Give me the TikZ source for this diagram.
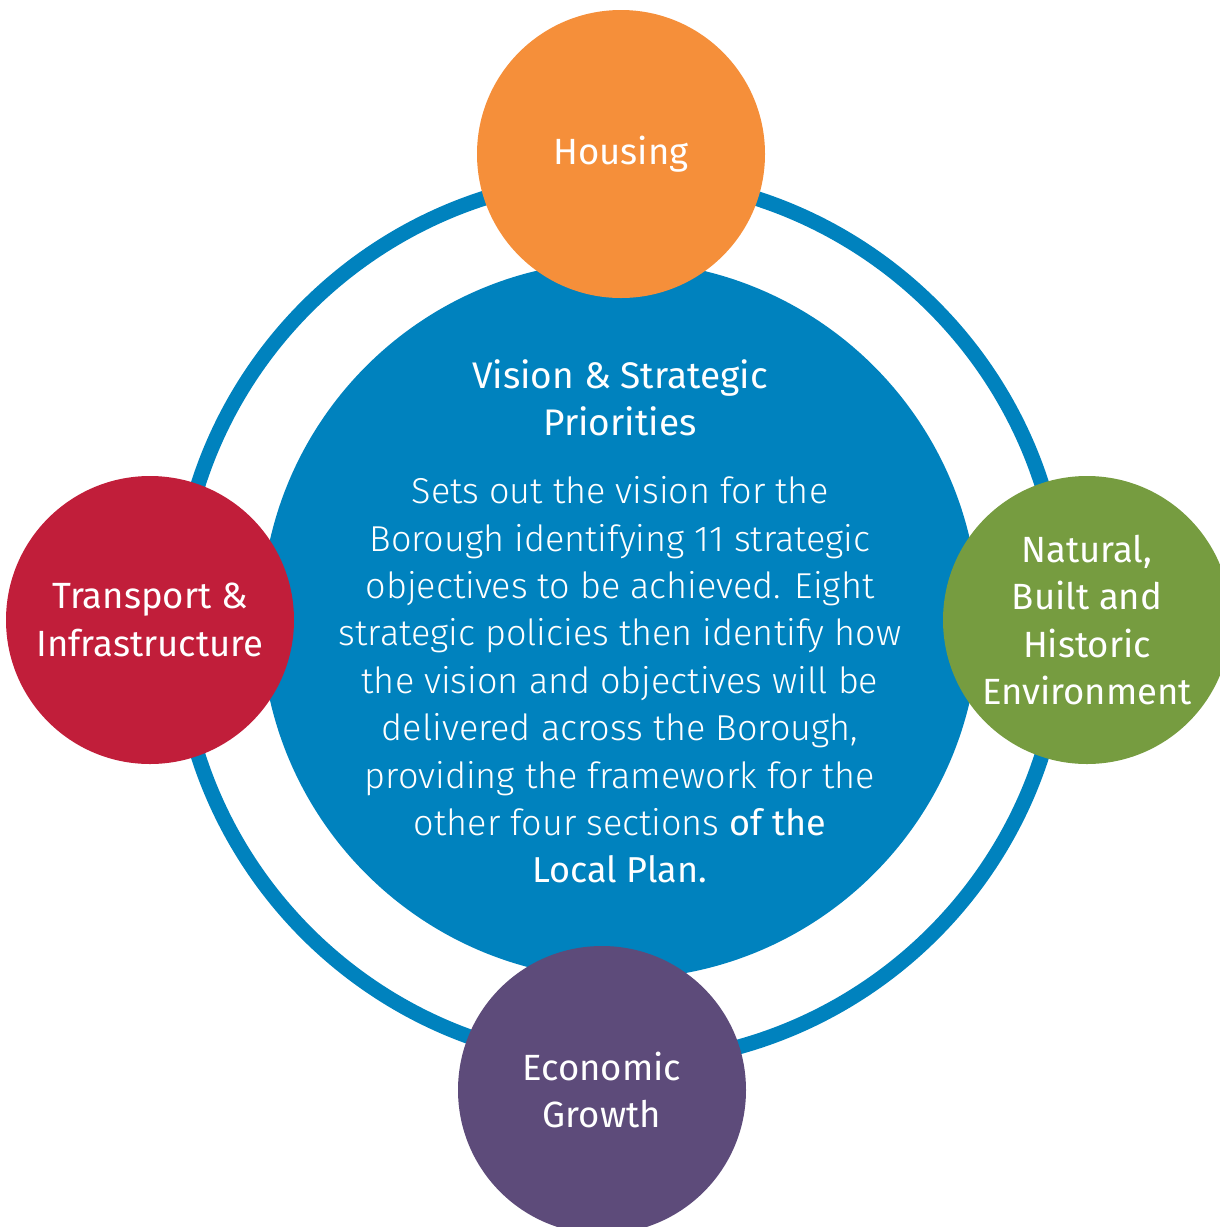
\documentclass[tikz,border=0pt]{standalone}
\usepackage{fontspec}
\setmainfont{Fira Sans}
\newfontfamily\lightfont{Fira Sans Light}
\definecolor{planblue}{RGB}{0,130,190}
\definecolor{planorange}{RGB}{245,143,58}
\definecolor{planred}{RGB}{193,30,58}
\definecolor{plangreen}{RGB}{118,156,64}
\definecolor{planpurple}{RGB}{93,75,122}
\tikzset{
  ring/.style={circle, draw=planblue, line width=15pt, minimum size=886pt, inner sep=0pt},
  hub/.style={circle, fill=planblue, minimum size=718pt, inner sep=0pt},
  topic/.style={circle, fill=#1, text=white, minimum size=288pt, inner sep=0pt, align=center, font=\fontsize{36.5}{47.5}\selectfont},
  hubtitle/.style={text=white, align=center, font=\fontsize{37}{47}\selectfont},
  hubtext/.style={text=white, align=center, font=\fontsize{36}{47.4}\lightfont}
}

\begin{document}
\begin{tikzpicture}[x=1pt,y=-1pt]
  \useasboundingbox (0,0) rectangle (1220,1227);
  \clip (0,0) rectangle (1220,1227);
  \node[ring](ring) at (620,620) {};
  \node[hub](vision) at (620,620) {};
  \node[hubtitle](visiontitle) at (620,398) {Vision \& Strategic\\Priorities};
  \node[hubtext](visiontext) at (620,680) {Sets out the vision for the\\Borough identifying 11 strategic\\objectives to be achieved. Eight\\strategic policies then identify how\\the vision and objectives will be\\delivered across the Borough,\\providing the framework for the\\other four sections {\rmfamily of the}\\{\rmfamily Local Plan.}};
  \node[topic=planorange](housing) at (621,154) {Housing};
  \node[topic=planred](transport) at (150,620) {Transport \&\\Infrastructure};
  \node[topic=plangreen](natural) at (1087,620) {Natural,\\Built and\\Historic\\Environment};
  \node[topic=planpurple](economic) at (602,1090) {Economic\\Growth};
\end{tikzpicture}
\end{document}
